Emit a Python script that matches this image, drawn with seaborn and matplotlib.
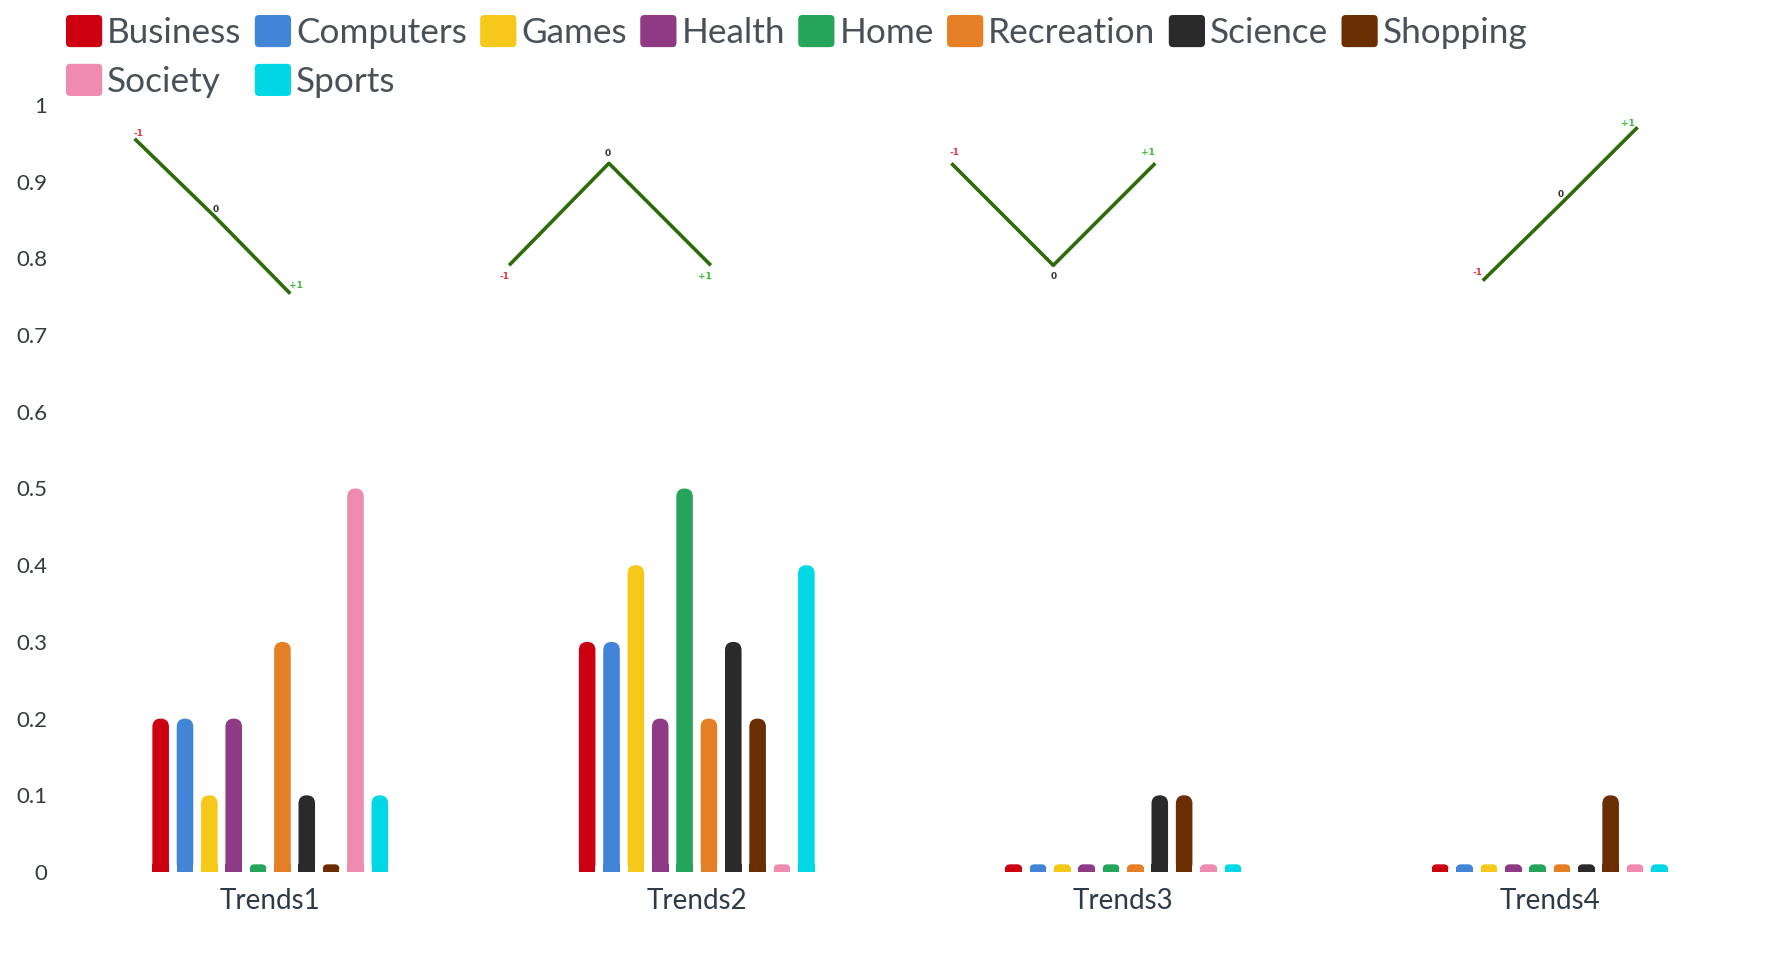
import numpy as np
import pandas as pd
import matplotlib
matplotlib.use("Agg")
import matplotlib.pyplot as plt
import seaborn as sns
from matplotlib.patches import FancyBboxPatch, Rectangle, Patch
from matplotlib.legend_handler import HandlerPatch

# ---- data ----
trends = ["Trends1", "Trends2", "Trends3", "Trends4"]
topics = ["Business", "Computers", "Games", "Health", "Home",
          "Recreation", "Science", "Shopping", "Society", "Sports"]
colors = ["#cc0011", "#4284d6", "#f6c819", "#8f3a85", "#25a55c",
          "#e57f25", "#2a2a2a", "#6b2e02", "#f08bb0", "#00d9e5"]

trend1 = [0.2, 0.2, 0.1, 0.2, 0.01, 0.3, 0.1, 0.01, 0.5, 0.1]
trend2 = [0.3, 0.3, 0.4, 0.2, 0.5, 0.2, 0.3, 0.2, 0.01, 0.4]
trend3 = [0.01, 0.01, 0.01, 0.01, 0.01, 0.01, 0.1, 0.1, 0.01, 0.01]
trend4 = [0.01, 0.01, 0.01, 0.01, 0.01, 0.01, 0.01, 0.1, 0.01, 0.01]

# little trend glyphs above each group (x = offset from group centre)
glyph_x = [[-0.318, -0.131, 0.047],
           [-0.440, -0.206, 0.033],
           [-0.403, -0.164, 0.075],
           [-0.157, 0.026, 0.206]]
glyph_y = [[0.956, 0.855, 0.754],
           [0.791, 0.924, 0.791],
           [0.924, 0.791, 0.924],
           [0.771, 0.871, 0.971]]
glyph_labels = ["-1", "0", "+1"]
glyph_label_colors = ["#e03a3a", "#333333", "#3cbc3c"]
glyph_offsets = [[(3, 4), (1, 5), (4, 6)],
                 [(-3, -8), (-1, 7), (-4, -8)],
                 [(2, 8), (0, -8), (-5, 8)],
                 [(-4, 6), (0, 7), (-7, 3)]]

rows = []
for t, vals in zip(trends, [trend1, trend2, trend3, trend4]):
    for topic, v in zip(topics, vals):
        rows.append({"trend": t, "topic": topic, "value": v})
df = pd.DataFrame(rows)


class RoundSwatch(HandlerPatch):
    # legend squares with slightly rounded corners
    def create_artists(self, legend, orig_handle, xdescent, ydescent,
                       width, height, fontsize, trans):
        p = FancyBboxPatch((-xdescent, -ydescent), width, height,
                           boxstyle="round,pad=0,rounding_size=3",
                           fc=orig_handle.get_facecolor(), ec="none",
                           transform=trans)
        return [p]


# ---- plot ----
sns.set_theme(style="white")
plt.rcParams["font.family"] = ["Lato", "DejaVu Sans"]

W, H, DPI = 1772, 957, 100
fig = plt.figure(figsize=(W / DPI, H / DPI), dpi=DPI)
ax_rect = [57 / W, 1 - 872 / H, (1763 - 57) / W, (872 - 105) / H]
ax = fig.add_axes(ax_rect)

sns.barplot(data=df, x="trend", y="value", hue="topic", hue_order=topics,
            palette=colors, saturation=1, width=0.571, gap=0.32,
            legend=False, ax=ax)

ax.set_xlim(-0.5, 3.5)
ax.set_ylim(0, 1)
ax.set_xlabel("")
ax.set_ylabel("")
sns.despine(ax=ax, left=True, bottom=True)
ax.set_yticks(np.arange(0, 1.01, 0.1))
ax.set_yticklabels(["0", "0.1", "0.2", "0.3", "0.4", "0.5", "0.6", "0.7", "0.8", "0.9", "1"])
ax.tick_params(axis="y", length=0, pad=7, labelsize=16, labelcolor="#333a40")
ax.tick_params(axis="x", length=0, pad=11.5, labelsize=20, labelcolor="#2d3b48")

# rounded bar tops
px_per_x = ax_rect[2] * W / 4.0
px_per_y = ax_rect[3] * H / 1.0
aspect = px_per_x / px_per_y
for bar in list(ax.patches):
    x, w, h = bar.get_x(), bar.get_width(), bar.get_height()
    fc = bar.get_facecolor()
    bar.set_visible(False)
    w_px, h_px = w * px_per_x, h * px_per_y
    r_px = min(w_px / 2, h_px * 0.6)
    ax.add_patch(FancyBboxPatch((x, 0), w, h,
                                boxstyle=f"round,pad=0,rounding_size={r_px / px_per_x}",
                                mutation_aspect=aspect, fc=fc, ec="none"))
    ax.add_patch(Rectangle((x, 0), w, min(h, r_px / px_per_y), fc=fc, ec="none"))

# trend glyphs
for i in range(len(trends)):
    gx = [i + dx for dx in glyph_x[i]]
    gy = glyph_y[i]
    ax.plot(gx, gy, color="#2f6b0b", lw=2.6, solid_capstyle="butt")
    for j in range(3):
        ax.annotate(glyph_labels[j], (gx[j], gy[j]), xytext=glyph_offsets[i][j],
                    textcoords="offset points", ha="center", va="center",
                    fontsize=6.5, fontweight="bold", color=glyph_label_colors[j],
                    family="DejaVu Sans")

# legend: ordered so column-wise filling reads row-wise
order = [0, 8, 1, 9, 2, 3, 4, 5, 6, 7]
handles = [Patch(facecolor=colors[k], edgecolor="none") for k in order]
labels = [topics[k] for k in order]
leg = fig.legend(handles, labels, loc="upper left", ncol=8,
                 bbox_to_anchor=(66 / W, 1 - 15 / H), frameon=False,
                 prop={"family": ["Lato", "DejaVu Sans"], "size": 25.3},
                 handlelength=1.03, handleheight=1.03,
                 handletextpad=0.14, columnspacing=0.38, labelspacing=0.42,
                 borderpad=0, borderaxespad=0,
                 handler_map={Patch: RoundSwatch()})
for txt in leg.get_texts():
    txt.set_color("#4a5057")

fig.savefig("out.png", dpi=DPI)
